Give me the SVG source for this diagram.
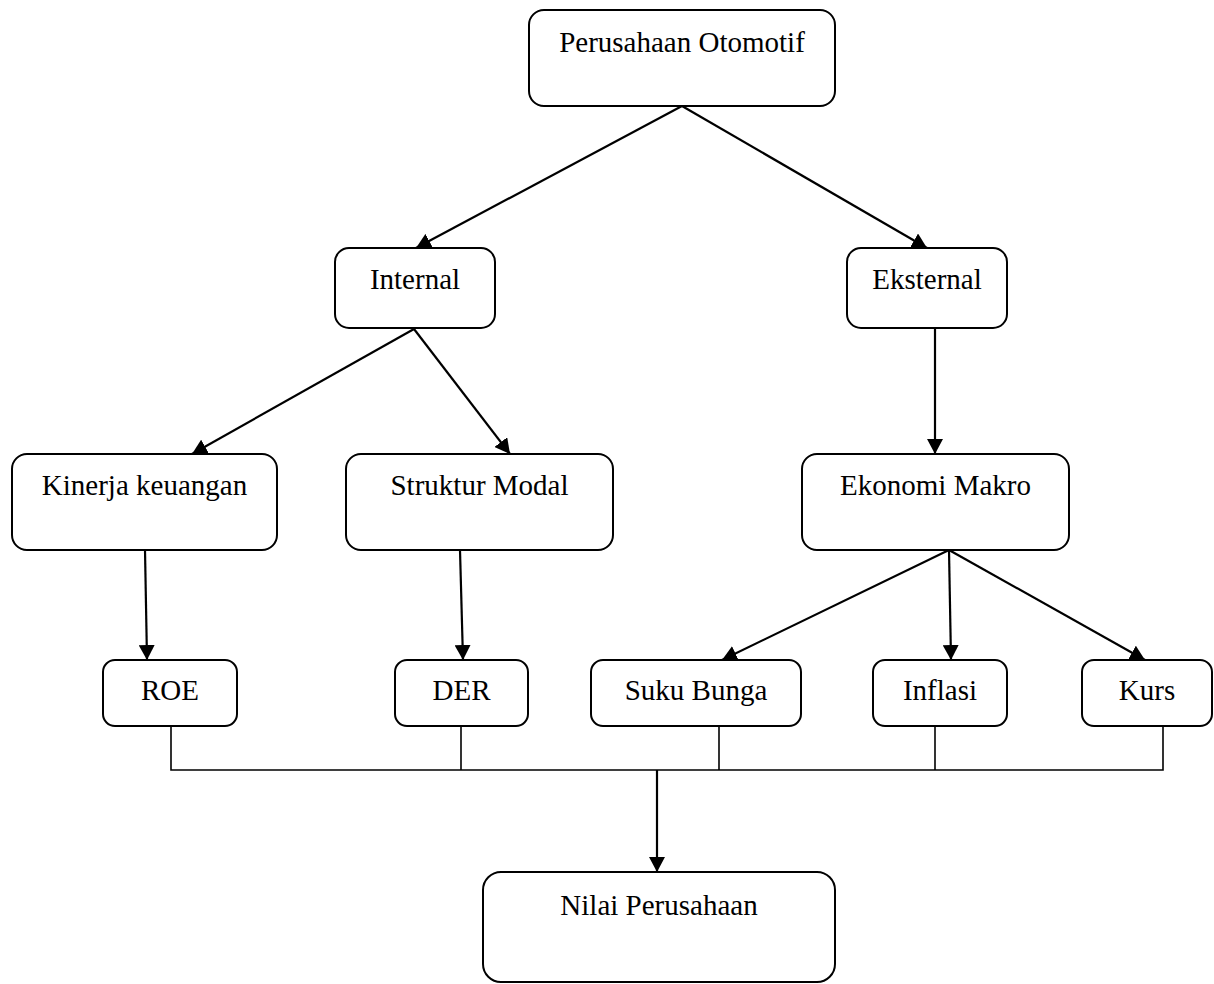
<svg xmlns="http://www.w3.org/2000/svg" width="1214" height="984" viewBox="0 0 1214 984">
<style>
.box{fill:#fff;stroke:#000;stroke-width:2}
.lbl{font-family:"Liberation Serif","Times New Roman",serif;font-size:29px;fill:#000;text-anchor:middle}
.arr{fill:none;stroke:#000;stroke-width:2.2;marker-end:url(#ah)}
.bus{fill:none;stroke:#000;stroke-width:1.6}
</style>
<defs>
<marker id="ah" markerUnits="userSpaceOnUse" markerWidth="15" markerHeight="16" refX="15" refY="8" orient="auto">
<path d="M0,0 L15,8 L0,16 Z" fill="#000"/>
</marker>
</defs>
<rect width="1214" height="984" fill="#fff"/>
<g id="connectors">
<line class="arr" x1="682" y1="106" x2="416" y2="248"/>
<line class="arr" x1="682" y1="106" x2="927" y2="248"/>
<line class="arr" x1="414" y1="329" x2="192" y2="454"/>
<line class="arr" x1="414" y1="329" x2="510" y2="454"/>
<line class="arr" x1="935" y1="328" x2="935" y2="454"/>
<line class="arr" x1="145" y1="550" x2="147" y2="660"/>
<line class="arr" x1="460" y1="550" x2="463" y2="660"/>
<line class="arr" x1="949" y1="550" x2="722" y2="660"/>
<line class="arr" x1="949" y1="550" x2="951" y2="660"/>
<line class="arr" x1="949" y1="550" x2="1145" y2="660"/>
<polyline class="bus" points="171,726 171,770 1163,770 1163,726"/>
<line class="bus" x1="461" y1="726" x2="461" y2="770"/>
<line class="bus" x1="719" y1="726" x2="719" y2="770"/>
<line class="bus" x1="935" y1="726" x2="935" y2="770"/>
<line class="arr" x1="657" y1="770" x2="657" y2="872"/>
</g>
<g id="n-perusahaan"><rect class="box" x="529" y="10" width="306" height="96" rx="15"/><text class="lbl" x="682" y="52">Perusahaan Otomotif</text></g>
<g id="n-internal"><rect class="box" x="335" y="248" width="160" height="80" rx="14"/><text class="lbl" x="415" y="289">Internal</text></g>
<g id="n-eksternal"><rect class="box" x="847" y="248" width="160" height="80" rx="14"/><text class="lbl" x="927" y="289">Eksternal</text></g>
<g id="n-kinerja"><rect class="box" x="12" y="454" width="265" height="96" rx="15"/><text class="lbl" x="144.5" y="495">Kinerja keuangan</text></g>
<g id="n-struktur"><rect class="box" x="346" y="454" width="267" height="96" rx="15"/><text class="lbl" x="479.5" y="495">Struktur Modal</text></g>
<g id="n-ekonomi"><rect class="box" x="802" y="454" width="267" height="96" rx="15"/><text class="lbl" x="935.5" y="495">Ekonomi Makro</text></g>
<g id="n-roe"><rect class="box" x="103" y="660" width="134" height="66" rx="12"/><text class="lbl" x="170" y="700">ROE</text></g>
<g id="n-der"><rect class="box" x="395" y="660" width="133" height="66" rx="12"/><text class="lbl" x="461.5" y="700">DER</text></g>
<g id="n-suku"><rect class="box" x="591" y="660" width="210" height="66" rx="12"/><text class="lbl" x="696" y="700">Suku Bunga</text></g>
<g id="n-inflasi"><rect class="box" x="873" y="660" width="134" height="66" rx="12"/><text class="lbl" x="940" y="700">Inflasi</text></g>
<g id="n-kurs"><rect class="box" x="1082" y="660" width="130" height="66" rx="12"/><text class="lbl" x="1147" y="700">Kurs</text></g>
<g id="n-nilai"><rect class="box" x="483" y="872" width="352" height="110" rx="18"/><text class="lbl" x="659" y="915">Nilai Perusahaan</text></g>
</svg>
